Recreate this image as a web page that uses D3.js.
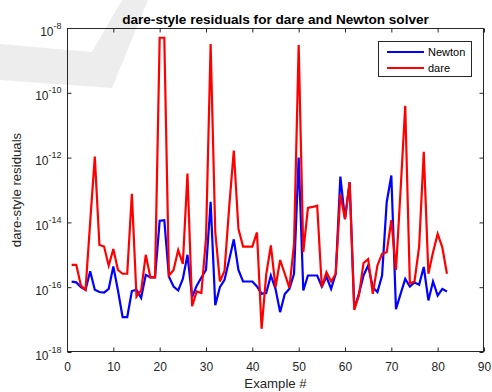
<!DOCTYPE html>
<html><head><meta charset="utf-8">
<script src="https://cdn.jsdelivr.net/npm/d3@7"></script>
<style>body{margin:0;background:#fff}svg{display:block}text{font-family:"Liberation Sans",Arial,Helvetica,sans-serif;fill:#262626}</style>
</head><body><svg id="c" width="492" height="392"></svg>
<script>
const examples = d3.range(1, 83);
const newton = [1.48e-16,1.41e-16,1.0e-16,8.3e-17,3.1e-16,8.3e-17,7.1e-17,6.8e-17,8.9e-17,4.4e-16,
7.9e-17,1.2e-17,1.2e-17,7.6e-17,8.3e-17,4.7e-17,2.4e-16,2.0e-16,2.0e-16,1.12e-14,
1.17e-14,2.1e-16,1.05e-16,7.9e-17,1.8e-16,1.0e-15,4.9e-17,1.12e-16,2.0e-16,3.4e-16,
4.3e-14,2.8e-17,1.0e-16,1.7e-16,6.9e-16,3.0e-15,3.4e-16,1.5e-16,1.5e-16,1.5e-16,
1.05e-16,6.3e-17,6.6e-17,2.3e-16,8.9e-17,1.7e-17,6.2e-17,8.9e-17,2.6e-16,1.0e-12,
7.9e-17,2.3e-16,2.3e-16,2.3e-16,1.05e-16,2.1e-16,8.9e-17,2.6e-16,2.6e-13,1.26e-14,
1.74e-13,2.2e-17,6.2e-17,2.3e-16,4.7e-16,1.0e-16,7.1e-17,2.3e-16,4.2e-14,2.8e-13,
2.1e-17,6.2e-17,1.8e-16,1.05e-16,1.4e-16,1.2e-16,4.2e-16,3.9e-17,1.5e-16,5.5e-17,
8.9e-17,7.4e-17];
const dare = [4.9e-16,4.9e-16,1.12e-16,8.3e-17,1.0e-14,1.07e-12,2.0e-15,1.8e-15,4.6e-16,1.5e-15,
3.4e-16,2.6e-16,2.6e-16,7.6e-14,5.1e-17,7.9e-17,1.0e-15,2.0e-16,2.0e-16,5.0e-9,
5.0e-9,2.3e-16,3.4e-16,1.4e-15,5.2e-16,3.2e-13,2.6e-17,7.4e-17,6.6e-17,3.2e-15,
3.2e-9,5.0e-15,1.5e-16,3.2e-16,2.9e-14,1.66e-12,6.3e-15,1.8e-15,1.8e-15,1.8e-15,
4.9e-15,5.2e-18,2.5e-16,1.95e-15,1.0e-16,6.9e-16,2.6e-16,9.5e-17,2.1e-15,3.0e-9,
1.2e-15,2.8e-14,3.0e-14,3.3e-14,1.0e-16,2.9e-16,1.5e-16,2.6e-16,7.4e-14,1.26e-14,
1.74e-13,2.0e-17,5.5e-17,5.6e-16,7.4e-16,6.2e-17,4.7e-16,1.07e-15,1.2e-15,1.17e-14,
3.4e-16,1.0e-13,4.0e-11,1.3e-16,1.5e-16,1.8e-15,1.5e-12,2.6e-16,1.2e-15,4.4e-15,
1.7e-15,2.6e-16];
const xTicks = [0,10,20,30,40,50,60,70,80,90];
const yTickExps = [-18,-16,-14,-12,-10,-8];
const seriesNames = ["Newton", "dare"];
const seriesColors = ["#0000ff", "#ff0000"];

const svg = d3.select("#c");
const L = 67, R = 484, T = 28, B = 352;
const x = d3.scaleLinear().domain([0, 90]).range([L, R]);
const y = d3.scaleLog().domain([1e-18, 1e-8]).range([B, T]);
const ink = "#262626";

// faint watermark in background
svg.append("path")
  .attr("d", "M0,44 L92,52 L122,0 L148,0 L112,88 L0,80 Z")
  .attr("fill", "#ededed");

// data lines
const line = d3.line().x((d, i) => x(examples[i])).y(d => y(d));
[newton, dare].forEach((s, k) => {
  svg.append("path").datum(s).attr("d", line)
    .attr("fill", "none").attr("stroke", seriesColors[k]).attr("stroke-width", 2.2);
});

// axes box
svg.append("rect").attr("x", L + 0.5).attr("y", T + 0.5).attr("width", R - L - 1).attr("height", B - T - 1)
  .attr("fill", "none").attr("stroke", ink).attr("stroke-width", 1);

// bottom axis
const xb = d3.axisBottom(x).tickValues(xTicks).tickSizeInner(-4).tickSizeOuter(0).tickPadding(11);
const gx = svg.append("g").attr("transform", `translate(0,${B - 0.5})`).call(xb);
gx.select(".domain").remove();
gx.selectAll("line").attr("stroke", ink);
gx.selectAll("text").attr("font-size", 12).style("fill", ink);
// top ticks
const gxt = svg.append("g").attr("transform", `translate(0,${T + 0.5})`).call(d3.axisTop(x).tickValues(xTicks).tickSizeInner(-4).tickSizeOuter(0).tickFormat(""));
gxt.select(".domain").remove();
gxt.selectAll("line").attr("stroke", ink);

// left axis
const yTickVals = yTickExps.map(e => Math.pow(10, e));
const gy = svg.append("g").attr("transform", `translate(${L + 0.5},0)`).call(d3.axisLeft(y).tickValues(yTickVals).tickSizeInner(-4).tickSizeOuter(0).tickFormat(""));
gy.select(".domain").remove();
gy.selectAll("line").attr("stroke", ink);
gy.selectAll(".tick").each(function(d, i) {
  const t = d3.select(this).append("text").attr("x", -6).attr("y", 7).attr("text-anchor", "end").attr("font-size", 12).style("fill", ink);
  t.append("tspan").text("10");
  t.append("tspan").attr("dy", -7).attr("font-size", 9).text(String(yTickExps[i]));
});
const gyr = svg.append("g").attr("transform", `translate(${R - 0.5},0)`).call(d3.axisRight(y).tickValues(yTickVals).tickSizeInner(-4).tickSizeOuter(0).tickFormat(""));
gyr.select(".domain").remove();
gyr.selectAll("line").attr("stroke", ink);

// labels
svg.append("text").attr("x", (L + R) / 2).attr("y", 24).attr("text-anchor", "middle")
  .attr("font-size", 13.6).attr("font-weight", "bold").style("fill", "#000").text("dare-style residuals for dare and Newton solver");
svg.append("text").attr("x", (L + R) / 2).attr("y", 388).attr("text-anchor", "middle")
  .attr("font-size", 13.2).text("Example #");
svg.append("text").attr("transform", `translate(21,${(T + B) / 2}) rotate(-90)`).attr("text-anchor", "middle")
  .attr("font-size", 13.2).text("dare-style residuals");

// legend
const lg = svg.append("g");
lg.append("rect").attr("x", 378.5).attr("y", 41.5).attr("width", 93).attr("height", 35)
  .attr("fill", "#fff").attr("stroke", ink).attr("stroke-width", 1);
seriesNames.forEach((n, k) => {
  const yy = 52 + k * 16;
  lg.append("line").attr("x1", 387).attr("x2", 424).attr("y1", yy).attr("y2", yy)
    .attr("stroke", seriesColors[k]).attr("stroke-width", 2.2);
  lg.append("text").attr("x", 428).attr("y", yy + 4).attr("font-size", 11).style("fill", "#000").text(n);
});
</script></body></html>
